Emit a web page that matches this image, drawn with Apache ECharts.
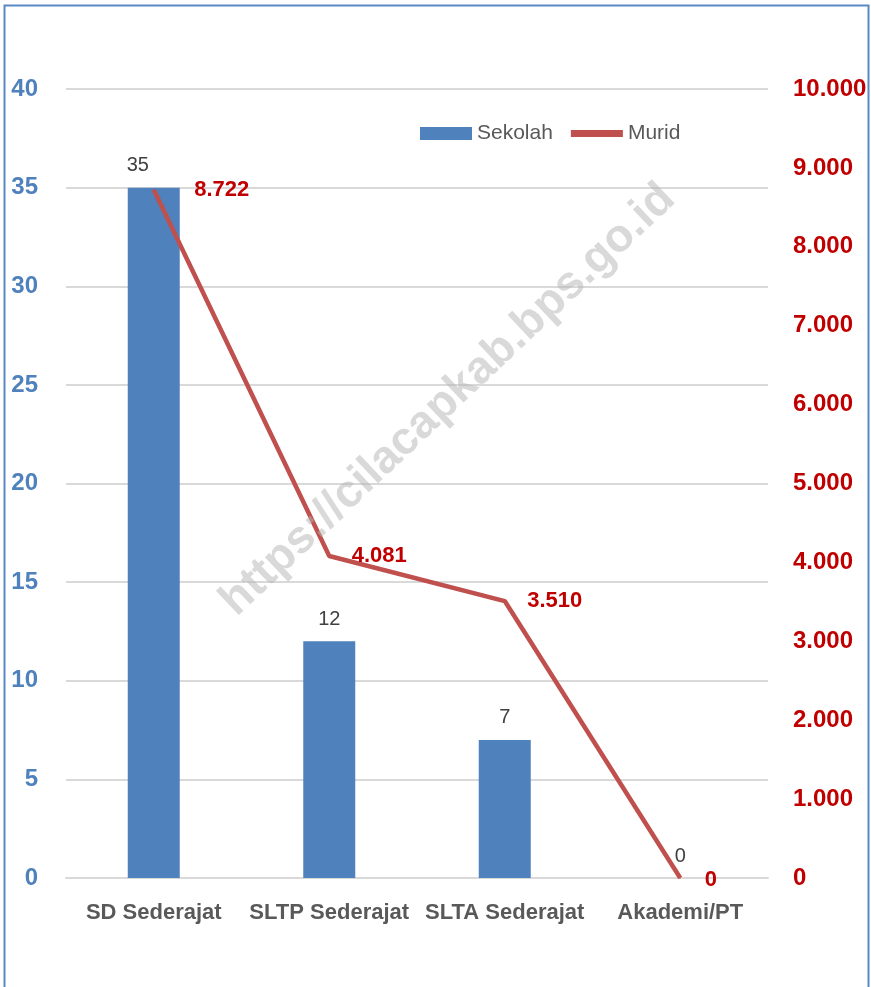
<!DOCTYPE html>
<html><head><meta charset="utf-8">
<script src="https://cdn.jsdelivr.net/npm/echarts@6/dist/echarts.min.js"></script>
<style>html,body{margin:0;padding:0;background:#fff}#c{width:871px;height:987px}</style>
</head><body><div id="c"></div>
<script>
const categories = ['SD Sederajat', 'SLTP Sederajat', 'SLTA Sederajat', 'Akademi/PT'];
const sekolah = [35, 12, 7, 0];
const murid = [8722, 4081, 3510, 0];
const leftTicks = {min: 0, max: 40, interval: 5};
const rightTicks = {min: 0, max: 10000, interval: 1000};
const watermark = 'https://cilacapkab.bps.go.id';

function fmtDot(v){ return String(v).replace(/\B(?=(\d{3})+(?!\d))/g, '.'); }
const FONT = '"Liberation Sans", Arial, sans-serif';

const chart = echarts.init(document.getElementById('c'), null, {renderer: 'canvas'});
chart.setOption({
  animation: false,
  backgroundColor: '#fff',
  textStyle: {fontFamily: FONT},
  grid: {left: 66, right: 103, top: 89, bottom: 109, containLabel: false},
  legend: {
    top: 118, left: 415, itemGap: 18, itemWidth: 52, itemHeight: 13,
    textStyle: {fontSize: 21, color: '#595959', fontFamily: FONT},
    data: [{name: 'Sekolah', icon: 'rect'}, {name: 'Murid', icon: 'path://M0,0 L10,0 L10,1.3 L0,1.3 Z'}]
  },
  xAxis: {
    type: 'category', data: categories,
    axisLine: {show: true, lineStyle: {color: '#D9D9D9', width: 2}},
    axisTick: {show: false},
    axisLabel: {interval: 0, fontSize: 22, fontWeight: 'bold', color: '#595959', margin: 24, fontFamily: FONT}
  },
  yAxis: [{
    type: 'value', min: leftTicks.min, max: leftTicks.max, interval: leftTicks.interval,
    axisLine: {show: false}, axisTick: {show: false},
    splitLine: {lineStyle: {color: '#D9D9D9', width: 2}},
    axisLabel: {fontSize: 24, fontWeight: 'bold', color: '#4F81BD', margin: 28, fontFamily: FONT}
  }, {
    type: 'value', min: rightTicks.min, max: rightTicks.max, interval: rightTicks.interval,
    position: 'right',
    axisLine: {show: false}, axisTick: {show: false}, splitLine: {show: false},
    axisLabel: {fontSize: 24, fontWeight: 'bold', color: '#C00000', margin: 25, fontFamily: FONT, formatter: fmtDot}
  }],
  series: [{
    name: 'Sekolah', type: 'bar', data: sekolah.map((v, i) => i === 0 ? {value: v, label: {offset: [-16, 0]}} : v),
    barWidth: 52, yAxisIndex: 0,
    itemStyle: {color: '#4F81BD'},
    label: {show: true, position: 'top', distance: 12, fontSize: 20, color: '#404040', fontFamily: FONT}
  }, {
    name: 'Murid', type: 'line', data: murid.map((v, i) => i === 0 ?
      {value: v, label: {offset: [18, 0]}} : (i === 3 ? {value: v, label: {offset: [2, 2]}} : v)),
    yAxisIndex: 1, symbol: 'circle', showSymbol: true, symbolSize: 1,
    lineStyle: {color: '#C0504D', width: 4.5}, itemStyle: {color: '#C0504D'},
    label: {show: true, position: 'right', distance: 22, fontSize: 22, fontWeight: 'bold', color: '#C00000',
      fontFamily: FONT, formatter: p => fmtDot(p.value)}
  }],
  graphic: [{
    type: 'rect', shape: {x: 4.5, y: 5.5, width: 864, height: 990},
    style: {fill: 'none', stroke: '#5B87C5', lineWidth: 2}, silent: true, z: 100
  }, {
    type: 'text', x: 448, y: 400, rotation: 0.757, z: 100, silent: true,
    style: {text: watermark, fill: 'rgba(180,180,180,0.5)', font: 'bold 46px ' + FONT,
      textAlign: 'center', textVerticalAlign: 'middle'}
  }]
});
</script></body></html>
